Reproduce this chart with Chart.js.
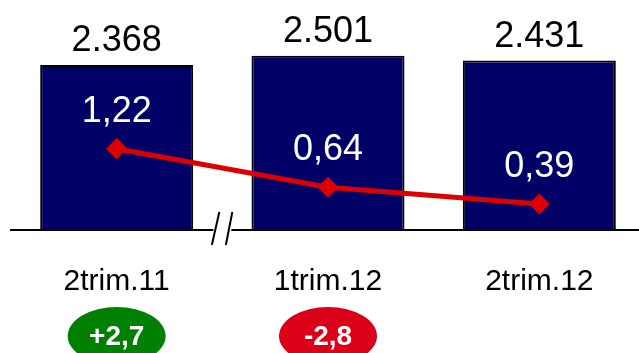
<!DOCTYPE html>
<html>
<head>
<meta charset="utf-8">
<script src="https://cdn.jsdelivr.net/npm/chart.js@4"></script>
<style>
  html, body { margin: 0; padding: 0; background: #fff; overflow: hidden; }
  #wrap { width: 645px; height: 353px; }
</style>
</head>
<body>
<div id="wrap"><canvas id="chart" width="645" height="353"></canvas></div>
<script>
const categories = ['2trim.11', '1trim.12', '2trim.12'];
const volumes = [2368, 2501, 2431];
const rates = [1.22, 0.64, 0.39];
const changeLabels = ['+2,7', '-2,8', null];
const changeColors = ['#008000', '#da0019', null];

const FONT = '"Liberation Sans", Arial, sans-serif';

function fmtVolume(v) {
  return String(v).replace(/\B(?=(\d{3})+(?!\d))/g, '.');
}

function fmtRate(v) {
  return v.toFixed(2).replace('.', ',');
}

const decorations = {
  id: 'decorations',
  afterDatasetsDraw(chart) {
    const ctx = chart.ctx;
    const area = chart.chartArea;
    const x = chart.scales.x;
    const bars = chart.getDatasetMeta(0).data;
    const pts = chart.getDatasetMeta(1).data;
    const base = area.bottom;

    ctx.save();
    ctx.textAlign = 'center';
    ctx.textBaseline = 'alphabetic';

    // values above bars
    ctx.font = '36px ' + FONT;
    ctx.fillStyle = '#000';
    bars.forEach((b, i) => ctx.fillText(fmtVolume(volumes[i]), b.x, b.y - 14));

    // values above line points
    ctx.fillStyle = '#fff';
    pts.forEach((p, i) => ctx.fillText(fmtRate(rates[i]), p.x, p.y - 27));

    // axis line with break between first and second category
    const bx = (x.getPixelForValue(0) + x.getPixelForValue(1)) / 2;
    ctx.strokeStyle = '#000';
    ctx.lineWidth = 2;
    ctx.beginPath();
    ctx.moveTo(area.left - 1, base);
    ctx.lineTo(bx - 9, base);
    ctx.moveTo(bx + 9, base);
    ctx.lineTo(chart.width, base);
    ctx.moveTo(bx - 3, base - 18);
    ctx.lineTo(bx - 10.5, base + 15);
    ctx.moveTo(bx + 10, base - 18);
    ctx.lineTo(bx + 3.5, base + 15);
    ctx.stroke();

    // category labels
    ctx.font = '30px ' + FONT;
    ctx.fillStyle = '#000';
    categories.forEach((c, i) => ctx.fillText(c, x.getPixelForValue(i), base + 60));

    // change badges
    changeLabels.forEach((t, i) => {
      if (!t) return;
      const cx = x.getPixelForValue(i);
      ctx.fillStyle = changeColors[i];
      ctx.beginPath();
      ctx.ellipse(cx, base + 106, 49, 29, 0, 0, Math.PI * 2);
      ctx.fill();
      ctx.fillStyle = '#fff';
      ctx.font = 'bold 28px ' + FONT;
      ctx.fillText(t, cx, base + 115);
    });
    ctx.restore();
  }
};

new Chart(document.getElementById('chart'), {
  type: 'bar',
  data: {
    labels: categories,
    datasets: [{
      type: 'bar',
      data: volumes,
      backgroundColor: '#000066',
      borderColor: '#000',
      borderWidth: 2,
      barPercentage: 0.724,
      categoryPercentage: 1,
      yAxisID: 'y',
      order: 2
    }, {
      type: 'line',
      data: rates,
      borderColor: '#dd0000',
      backgroundColor: '#dd0000',
      borderWidth: 5,
      tension: 0,
      pointStyle: 'rectRot',
      pointRadius: 10,
      pointBorderWidth: 1,
      yAxisID: 'y1',
      order: 1
    }]
  },
  options: {
    responsive: false,
    animation: false,
    layout: { autoPadding: false, padding: { left: 11, right: 0, top: 0, bottom: 123 } },
    plugins: { legend: { display: false }, tooltip: { enabled: false } },
    scales: {
      x: { display: false },
      y: { display: false, min: 0, max: 3300 },
      y1: { display: false, min: 0, max: 3.45 }
    }
  },
  plugins: [decorations]
});
</script>
</body>
</html>
